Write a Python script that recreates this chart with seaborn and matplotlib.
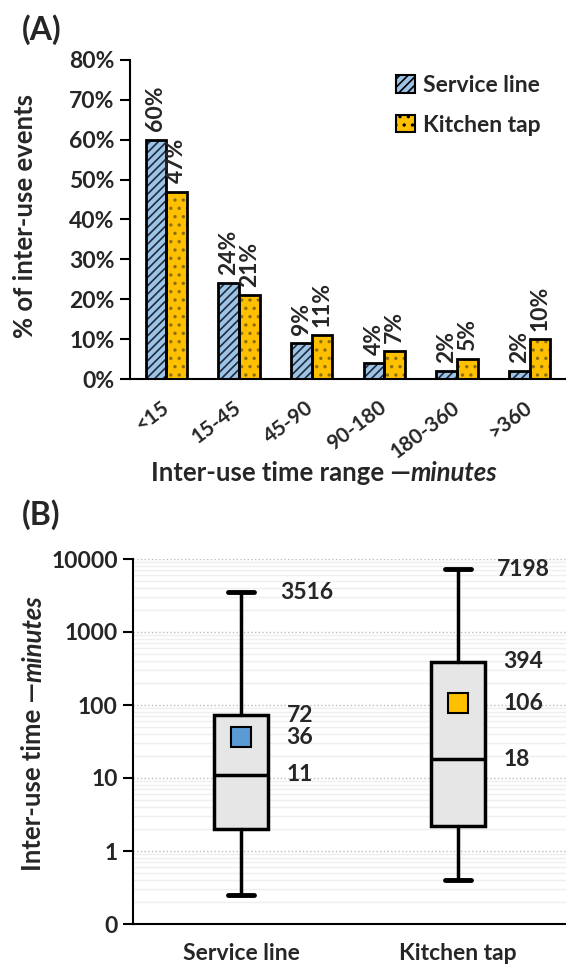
import matplotlib
matplotlib.use("Agg")
import matplotlib.pyplot as plt
import seaborn as sns
import pandas as pd
from matplotlib.patches import Patch, Rectangle

# panel A: share of inter-use events per time range
ranges = ["<15", "15-45", "45-90", "90-180", "180-360", ">360"]
service_pct = [60, 24, 9, 4, 2, 2]
kitchen_pct = [47, 21, 11, 7, 5, 10]
sources = ["Service line", "Kitchen tap"]

# panel B: box stats of inter-use time (minutes)
whis_low = [0.25, 0.4]
q1 = [2.0, 2.2]
median = [11, 18]
q3 = [72, 394]
whis_high = [3516, 7198]
mean = [36, 106]

yticks_b = [0.1, 1, 10, 100, 1000, 10000]
ytick_labels_b = ["0", "1", "10", "100", "1000", "10000"]

sns.set_theme(style="white")
plt.rcParams["font.family"] = ["Lato", "DejaVu Sans"]
plt.rcParams["font.weight"] = "bold"
plt.rcParams["hatch.linewidth"] = 1.2

W, H = 566, 971
fig = plt.figure(figsize=(W / 100, H / 100), dpi=100)
FS = 16.5      # ticks, bar labels, legend
FL = 18.5      # axis titles


def box(l, t, r, b):
    return [l / W, 1 - b / H, (r - l) / W, (b - t) / H]


def two_part(x, y, a, b, rot=0, size=FL):
    # bold text followed by bold italic text, centred on (x, y) in pixels
    t1 = fig.text(0, 0, a, fontsize=size, weight="bold", rotation=rot)
    t2 = fig.text(0, 0, b, fontsize=size, weight="bold", style="italic", rotation=rot)
    r = fig.canvas.get_renderer()
    b1 = t1.get_window_extent(r)
    b2 = t2.get_window_extent(r)
    if rot == 0:
        x0 = x - (b1.width + b2.width) / 2
        for t, xx in [(t1, x0), (t2, x0 + b1.width)]:
            t.set_position((xx / W, 1 - y / H))
            t.set_ha("left")
            t.set_va("center")
    else:
        y0 = y + (b1.height + b2.height) / 2
        for t, yy in [(t1, y0), (t2, y0 - b1.height)]:
            t.set_position((x / W, 1 - yy / H))
            t.set_ha("center")
            t.set_va("bottom")


# ---------------- (A) ----------------
axA = fig.add_axes(box(130, 60, 566, 379))
df = pd.DataFrame({
    "range": ranges * 2,
    "pct": service_pct + kitchen_pct,
    "source": [sources[0]] * len(ranges) + [sources[1]] * len(ranges),
})
colors = ["#9dc3e6", "#ffc000"]
sns.barplot(data=df, x="range", y="pct", hue="source", order=ranges,
            hue_order=sources, palette=colors, saturation=1,
            width=0.57, edgecolor="black", linewidth=2, errorbar=None,
            legend=False, ax=axA)
hatches = ["////", ".."]
hatch_cols = ["#1f2a3a", "#8c6e10"]
for cont, hatch, hc, vals in zip(axA.containers, hatches, hatch_cols,
                                 [service_pct, kitchen_pct]):
    for bar in cont:
        bar.set_hatch(hatch)
        bar.set_edgecolor(hc)
        bar.set_linewidth(0)
        axA.add_patch(Rectangle(bar.get_xy(), bar.get_width(), bar.get_height(),
                                fill=False, edgecolor="black", linewidth=2, zorder=3))
    axA.bar_label(cont, labels=[f"{v}%" for v in vals], rotation=90,
                  padding=6, fontsize=FS, fontweight="bold")

axA.set_ylim(0, 80)
axA.set_yticks(range(0, 81, 10))
axA.set_yticklabels([f"{v}%" for v in range(0, 81, 10)], fontsize=FS)
axA.set_xlim(-0.5, 5.44)
axA.set_xticks(range(len(ranges)))
axA.set_xticklabels(ranges, rotation=37, ha="right", va="center",
                    rotation_mode="anchor", fontsize=15)
axA.set_xticks([i - 0.5 for i in range(len(ranges) + 1)], minor=True)
axA.tick_params(axis="x", which="major", length=0, pad=19)
axA.tick_params(axis="x", which="minor", length=7, width=1.5, color="black")
axA.tick_params(axis="y", length=7, width=1.5, color="black", left=True, pad=4)
axA.set_xlabel("")
axA.set_ylabel("")
for s in ["top", "right"]:
    axA.spines[s].set_visible(False)
for s in ["left", "bottom"]:
    axA.spines[s].set_linewidth(1.5)
    axA.spines[s].set_color("black")
    axA.spines[s].set_zorder(4)

handles = [Patch(facecolor=c, edgecolor="black", linewidth=1.5, hatch=h, label=l)
           for c, h, l in zip(colors, hatches, sources)]
fig.legend(handles=handles, loc="upper left", bbox_to_anchor=(387 / W, 1 - 66 / H),
           frameon=False, fontsize=FS, handlelength=0.8, handleheight=0.8,
           handletextpad=0.35, labelspacing=0.8, borderaxespad=0)

fig.text(22 / W, 1 - 30 / H, "(A)", fontsize=23, weight="bold", va="center")
fig.text(25 / W, 1 - 216 / H, "% of inter-use events", fontsize=FL, weight="bold",
         rotation=90, ha="center", va="center")
two_part(324, 473, "Inter-use time range \u2014", "minutes")

# ---------------- (B) ----------------
axB = fig.add_axes(box(133, 559, 566, 924))
stats = [dict(whislo=whis_low[i], q1=q1[i], med=median[i], q3=q3[i],
              whishi=whis_high[i], mean=mean[i], fliers=[], label=sources[i])
         for i in range(len(sources))]
parts = axB.bxp(stats, positions=[0, 1], widths=0.25, capwidths=0.12,
                showmeans=True, patch_artist=True,
                boxprops=dict(facecolor="#e7e6e6", edgecolor="black", linewidth=2.5),
                whiskerprops=dict(color="black", linewidth=2.5),
                capprops=dict(color="black", linewidth=3.5),
                medianprops=dict(color="black", linewidth=2.5),
                meanprops=dict(marker="s", markersize=15, markeredgecolor="black",
                               markeredgewidth=1.5))
for m, c in zip(parts["means"], ["#5b9bd5", "#ffc000"]):
    m.set_markerfacecolor(c)

axB.set_yscale("log")
axB.set_ylim(0.1, 10000)
axB.set_yticks(yticks_b)
axB.set_yticklabels(ytick_labels_b, fontsize=FS)
axB.set_xlim(-0.5, 1.5)
axB.set_xticks([0, 1])
axB.set_xticklabels(sources, fontsize=FS)
axB.set_xticks([-0.5, 0.5, 1.5], minor=True)
axB.tick_params(axis="x", which="major", length=0, pad=14)
axB.tick_params(axis="x", which="minor", length=7, width=1.5, color="black")
axB.tick_params(axis="y", which="major", length=7, width=1.5, color="black", left=True, pad=4)
axB.tick_params(axis="y", which="minor", length=0)
axB.set_axisbelow(True)
axB.grid(True, which="minor", axis="y", color="#efefef", linewidth=1, linestyle="-")
axB.grid(True, which="major", axis="y", color="#bdbdbd", linewidth=1, linestyle=":")
for s in ["top", "right"]:
    axB.spines[s].set_visible(False)
for s in ["left", "bottom"]:
    axB.spines[s].set_linewidth(1.5)
    axB.spines[s].set_color("black")

for i in range(len(sources)):
    axB.text(i + 0.18, whis_high[i], str(whis_high[i]), fontsize=FS, weight="bold", va="center")
    for v in [q3[i], mean[i], median[i]]:
        axB.text(i + 0.21, v, str(v), fontsize=FS, weight="bold", va="center")

fig.text(22 / W, 1 - 515 / H, "(B)", fontsize=23, weight="bold", va="center")
two_part(33, 733, "Inter-use time \u2014", "minutes", rot=90)

fig.savefig("out.png", dpi=100)
